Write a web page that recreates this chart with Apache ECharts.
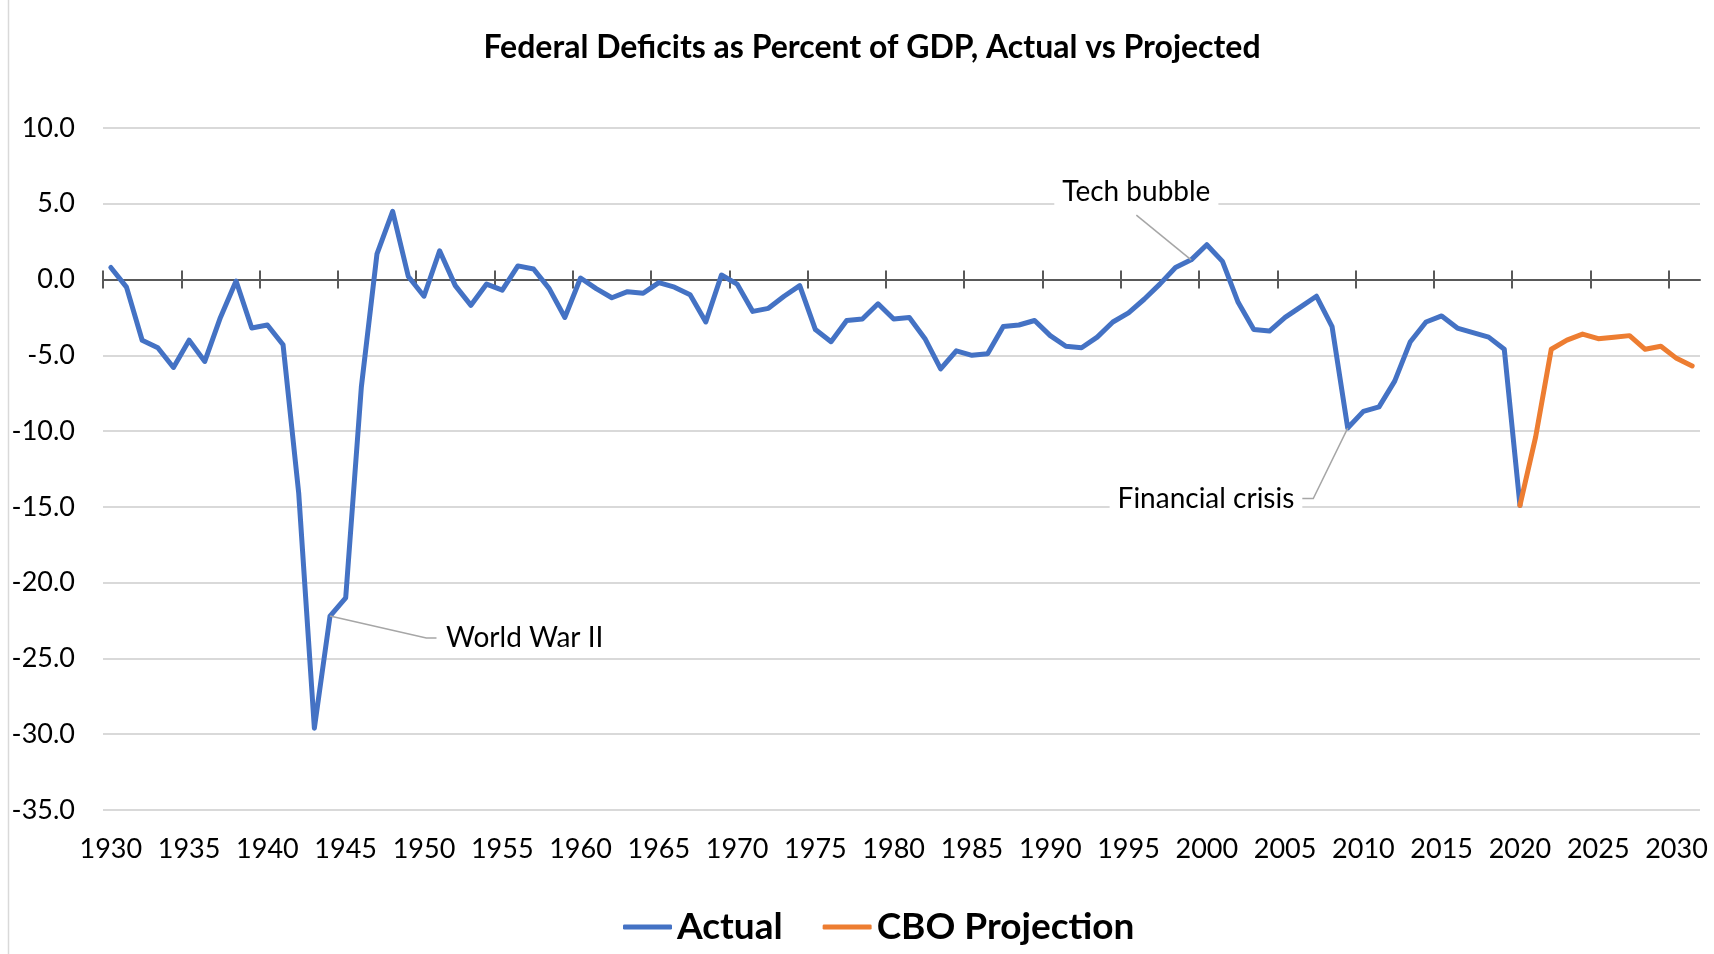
<!DOCTYPE html>
<html><head><meta charset="utf-8">
<script src="https://cdn.jsdelivr.net/npm/echarts@6/dist/echarts.min.js"></script>
<style>html,body{margin:0;padding:0;background:#fff}#c{width:1714px;height:954px}</style>
</head><body><div id="c"></div>
<script>
const years = ['1930','1931','1932','1933','1934','1935','1936','1937','1938','1939',
'1940','1941','1942','1943','1944','1945','1946','1947','1948','1949',
'1950','1951','1952','1953','1954','1955','1956','1957','1958','1959',
'1960','1961','1962','1963','1964','1965','1966','1967','1968','1969',
'1970','1971','1972','1973','1974','1975','1976','1977','1978','1979',
'1980','1981','1982','1983','1984','1985','1986','1987','1988','1989',
'1990','1991','1992','1993','1994','1995','1996','1997','1998','1999',
'2000','2001','2002','2003','2004','2005','2006','2007','2008','2009',
'2010','2011','2012','2013','2014','2015','2016','2017','2018','2019',
'2020','2021','2022','2023','2024','2025','2026','2027','2028','2029',
'2030','2031'];

// Actual deficit (% of GDP), 1930-2020
const actualValues = [0.8,-0.5,-4.0,-4.5,-5.8,-4.0,-5.4,-2.5,-0.1,-3.2,
-3.0,-4.3,-14.1,-29.6,-22.2,-21.0,-7.1,1.7,4.5,0.2,
-1.1,1.9,-0.4,-1.7,-0.3,-0.7,0.9,0.7,-0.6,-2.5,
0.1,-0.6,-1.2,-0.8,-0.9,-0.2,-0.5,-1.0,-2.8,0.3,
-0.3,-2.1,-1.9,-1.1,-0.4,-3.3,-4.1,-2.7,-2.6,-1.6,
-2.6,-2.5,-3.9,-5.9,-4.7,-5.0,-4.9,-3.1,-3.0,-2.7,
-3.7,-4.4,-4.5,-3.8,-2.8,-2.2,-1.3,-0.3,0.8,1.3,
2.3,1.2,-1.5,-3.3,-3.4,-2.5,-1.8,-1.1,-3.1,-9.8,
-8.7,-8.4,-6.7,-4.1,-2.8,-2.4,-3.2,-3.5,-3.8,-4.6,
-14.9];
// CBO projection, 2020-2031
const cboStartYear = '2020';
const cboValues = [-14.9,-10.4,-4.6,-4.0,-3.6,-3.9,-3.8,-3.7,-4.6,-4.4,-5.2,-5.7];

const yTicks = { min: -35, max: 10, step: 5 };

const annoTexts = ['World War II', 'Tech bubble', 'Financial crisis'];
const annoYears = [1944, 1999, 2009];

const actualData = years.map((y, i) => i < actualValues.length ? actualValues[i] : null);
const cboStart = years.indexOf(cboStartYear);
const cboData = years.map((y, i) => (i >= cboStart && i - cboStart < cboValues.length) ? cboValues[i - cboStart] : null);
// boundaries between year bands (for the tick marks on the zero line)
const bandEdges = years.concat([String(Number(years[years.length - 1]) + 1)]);

const FONT = 'Lato, "Open Sans", sans-serif';
const chart = echarts.init(document.getElementById('c'));
const gridBox = { left: 103, right: 14, top: 128, bottom: 144 };
const tickStyle = { color: '#595959', width: 2 };

chart.setOption({
  animation: false,
  backgroundColor: '#fff',
  title: {
    text: 'Federal Deficits as Percent of GDP, Actual vs Projected',
    left: 872, textAlign: 'center', top: 28, padding: 0,
    textStyle: { fontFamily: FONT, fontSize: 32, fontWeight: 'bold', color: '#000', lineHeight: 40 }
  },
  legend: {
    left: 623, top: 905, padding: 0,
    itemWidth: 49, itemHeight: 5, itemGap: 40,
    icon: 'roundRect',
    textStyle: { fontFamily: FONT, fontSize: 37, fontWeight: 'bold', color: '#000', lineHeight: 44 },
    data: ['Actual', 'CBO Projection']
  },
  grid: [Object.assign({}, gridBox), Object.assign({}, gridBox)],
  xAxis: [
    { type: 'category', data: years, gridIndex: 0, position: 'bottom', boundaryGap: true,
      axisLine: { show: false, onZero: false }, axisTick: { show: false },
      axisLabel: { interval: 4, fontFamily: FONT, fontSize: 27, color: '#000', margin: 26 } },
    { type: 'category', data: bandEdges, gridIndex: 0, position: 'top', boundaryGap: false,
      axisLine: { show: true, onZero: true, lineStyle: tickStyle },
      axisTick: { show: true, interval: 4, length: 9, lineStyle: tickStyle },
      axisLabel: { show: false } },
    { type: 'category', data: bandEdges, gridIndex: 1, position: 'bottom', boundaryGap: false,
      axisLine: { show: false, onZero: true },
      axisTick: { show: true, interval: 4, length: 9, lineStyle: tickStyle },
      axisLabel: { show: false } }
  ],
  yAxis: [
    { type: 'value', gridIndex: 0, min: yTicks.min, max: yTicks.max, interval: yTicks.step,
      axisLine: { show: false }, axisTick: { show: false },
      axisLabel: { fontFamily: FONT, fontSize: 27, color: '#000', margin: 28, formatter: v => v.toFixed(1) },
      splitLine: { lineStyle: { color: '#d9d9d9', width: 2 } } },
    { type: 'value', gridIndex: 1, min: yTicks.min, max: yTicks.max, interval: yTicks.step,
      axisLine: { show: false }, axisTick: { show: false }, axisLabel: { show: false }, splitLine: { show: false } }
  ],
  series: [
    { name: 'Actual', type: 'line', xAxisIndex: 0, yAxisIndex: 0, data: actualData, showSymbol: false, symbol: 'none',
      lineStyle: { color: '#4472C4', width: 5, join: 'round', cap: 'round' }, itemStyle: { color: '#4472C4' }, z: 3 },
    { name: 'CBO Projection', type: 'line', xAxisIndex: 0, yAxisIndex: 0, data: cboData, showSymbol: false, symbol: 'none',
      lineStyle: { color: '#ED7D31', width: 5, join: 'round', cap: 'round' }, itemStyle: { color: '#ED7D31' }, z: 4 }
  ]
});

// annotation helpers: positions via the chart's own scales
function toPx(yearF, value) {
  const idx = yearF - 1930;
  const i0 = Math.floor(idx), f = idx - i0;
  const p0 = chart.convertToPixel({ gridIndex: 0 }, [i0, value]);
  const p1 = chart.convertToPixel({ gridIndex: 0 }, [i0 + 1, value]);
  return [p0[0] + f * (p1[0] - p0[0]), p0[1]];
}
function valAt(year) { return actualData[years.indexOf(String(year))]; }

// leader geometry in data space: [elbowYear, elbowValue, endYear, labelYear, labelValue, align]
const annoLayout = [
  [1950.15, -23.65, 1950.8, 1950.9, -23.65, 'left'],
  [1995.5, 4.25, 1995.5, 1995.5, 5.75, 'center'],
  [2006.8, -14.45, 2006.05, 2006.1, -14.45, 'right']
];
const LC = '#a6a6a6';
const graphics = [
  { type: 'line', shape: { x1: 8.5, y1: 0, x2: 8.5, y2: 954 }, style: { stroke: '#d9d9d9', lineWidth: 1.5 }, z: 100 }
];
annoTexts.forEach((t, k) => {
  const L = annoLayout[k];
  const pt = toPx(annoYears[k], valAt(annoYears[k]));
  const el = toPx(L[0], L[1]);
  const en = toPx(L[2], L[1]);
  const lb = toPx(L[3], L[4]);
  graphics.push({ type: 'polyline', shape: { points: [pt, el, en] }, style: { stroke: LC, lineWidth: 1.5, fill: null }, z: 101 });
  graphics.push({ type: 'text', x: lb[0], y: lb[1], z: 102,
    style: { text: t, fontFamily: FONT, fontSize: 28, fill: '#000', align: L[5], verticalAlign: 'middle',
      backgroundColor: '#fff', padding: [3, 8, 3, 8] } });
});
chart.setOption({ graphic: { elements: graphics } });
</script></body></html>
